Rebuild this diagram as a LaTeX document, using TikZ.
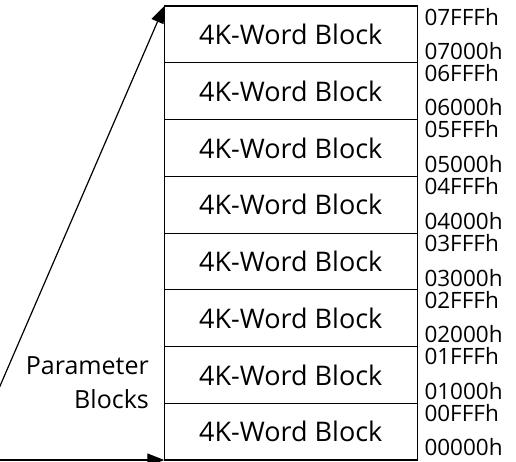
\documentclass[tikz,border=0pt]{standalone}
\usepackage{fontspec}
\setmainfont{Open Sans}
\usetikzlibrary{positioning}
\usetikzlibrary{arrows.meta}
\tikzset{%
    block/.style={inner sep=0pt,outer sep=0pt,shape=rectangle,draw,line width=0.9pt,minimum width=253pt,minimum height=56.75pt,font=\fontsize{27}{31}\selectfont},
    addr/.style={inner sep=0pt,anchor=west,font=\fontsize{22.5}{27}\selectfont},
    frame/.style={line width=1.6pt},
    ptr/.style={-{Triangle[length=17pt,width=13pt]},line width=1.2pt},
}

\begin{document}
\begin{tikzpicture}[x=1pt,y=-1pt]
      \useasboundingbox (0,0) rectangle (516,461);
      \clip (0,0) rectangle (516,461);

      \node [block] (blk1) at (290.8,34.375) {4K-Word Block};
      \node [block,below=0pt of blk1] (blk2) {4K-Word Block};
      \node [block,below=0pt of blk2] (blk3) {4K-Word Block};
      \node [block,below=0pt of blk3] (blk4) {4K-Word Block};
      \node [block,below=0pt of blk4] (blk5) {4K-Word Block};
      \node [block,below=0pt of blk5] (blk6) {4K-Word Block};
      \node [block,below=0pt of blk6] (blk7) {4K-Word Block};
      \node [block,below=0pt of blk7] (blk8) {4K-Word Block};
      \draw [frame] (blk1.north west) rectangle (blk8.south east);

      \node [addr] (hi7) at ([xshift=7pt,yshift=-11pt]blk1.north east) {07FFFh};
      \node [addr] (lo7) at ([xshift=7pt,yshift=12pt]blk1.south east) {07000h};
      \node [addr] (hi6) at ([xshift=7pt,yshift=-10pt]blk2.north east) {06FFFh};
      \node [addr] (lo6) at ([xshift=7pt,yshift=12pt]blk2.south east) {06000h};
      \node [addr] (hi5) at ([xshift=7pt,yshift=-10pt]blk3.north east) {05FFFh};
      \node [addr] (lo5) at ([xshift=7pt,yshift=12pt]blk3.south east) {05000h};
      \node [addr] (hi4) at ([xshift=7pt,yshift=-10pt]blk4.north east) {04FFFh};
      \node [addr] (lo4) at ([xshift=7pt,yshift=12pt]blk4.south east) {04000h};
      \node [addr] (hi3) at ([xshift=7pt,yshift=-10pt]blk5.north east) {03FFFh};
      \node [addr] (lo3) at ([xshift=7pt,yshift=12pt]blk5.south east) {03000h};
      \node [addr] (hi2) at ([xshift=7pt,yshift=-10pt]blk6.north east) {02FFFh};
      \node [addr] (lo2) at ([xshift=7pt,yshift=12pt]blk6.south east) {02000h};
      \node [addr] (hi1) at ([xshift=7pt,yshift=-10pt]blk7.north east) {01FFFh};
      \node [addr] (lo1) at ([xshift=7pt,yshift=12pt]blk7.south east) {01000h};
      \node [addr] (hi0) at ([xshift=7pt,yshift=-10pt]blk8.north east) {00FFFh};
      \node [addr] (lo0) at ([xshift=7pt,yshift=13pt]blk8.south east) {00000h};

      \node [inner sep=0pt,align=right,anchor=east,font=\fontsize{25}{34}\selectfont] (param) at (149,383) {Parameter\\Blocks};

      \coordinate (src) at (-32,460);
      \draw [ptr] (src) -- (blk1.north west);
      \draw [ptr] (src) -- (blk8.south west);
    \end{tikzpicture}
\end{document}
